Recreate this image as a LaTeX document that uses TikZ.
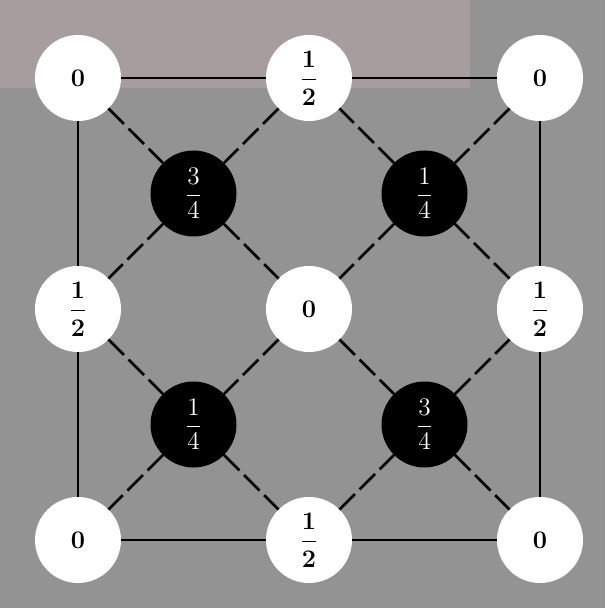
\documentclass[tikz,border=0pt]{standalone}
\usepackage{amsmath}
\usepackage{tikz}
\usetikzlibrary{positioning}
\definecolor{scangray}{HTML}{939393}
\definecolor{scanpink}{HTML}{F8C8D2}
\tikzset{
    every picture/.style={line join=round},
    sitewhite/.style={circle,fill=white,minimum size=17.2mm,inner sep=0pt,
      outer sep=0pt,font=\Large\bfseries\boldmath},
    siteblack/.style={circle,fill=black,text=white,minimum size=17.2mm,
      inner sep=0pt,outer sep=0pt,font=\Large},
    bondline/.style={draw=black,line width=1.6pt},
    bonddash/.style={draw=black,line width=1.6pt,dash pattern=on 4.4mm off 1.3mm}
}

\begin{document}
\begin{tikzpicture}[node distance=4.62cm and 4.62cm,on grid]
  \useasboundingbox[fill=scangray] (-1.56,1.56) rectangle (10.54,-10.6);
  \fill[scanpink,fill opacity=0.2] (-1.56,1.56) rectangle (7.84,-0.2);
  % white sites
  \node[sitewhite] (tl) {0};
  \node[sitewhite,right=of tl] (t) {$\dfrac{1}{2}$};
  \node[sitewhite,right=of t] (tr) {0};
  \node[sitewhite,below=of tl] (l) {$\dfrac{1}{2}$};
  \node[sitewhite,right=of l] (c) {0};
  \node[sitewhite,right=of c] (r) {$\dfrac{1}{2}$};
  \node[sitewhite,below=of l] (bl) {0};
  \node[sitewhite,right=of bl] (b) {$\dfrac{1}{2}$};
  \node[sitewhite,right=of b] (br) {0};
  % black sites
  \node[siteblack,below right=2.31cm and 2.31cm of tl] (nw) {$\dfrac{3}{4}$};
  \node[siteblack,below right=2.31cm and 2.31cm of t] (ne) {$\dfrac{1}{4}$};
  \node[siteblack,below right=2.31cm and 2.31cm of l] (sw) {$\dfrac{1}{4}$};
  \node[siteblack,below right=2.31cm and 2.31cm of c] (se) {$\dfrac{3}{4}$};
  % bonds
  \draw[bondline] (tl) -- (t) -- (tr) -- (r) -- (br) -- (b) -- (bl) -- (l) -- (tl);
  \draw[bonddash] (tl) -- (nw) -- (c) -- (se) -- (br);
  \draw[bonddash] (tr) -- (ne) -- (c) -- (sw) -- (bl);
  \draw[bonddash] (t) -- (nw) -- (l) -- (sw) -- (b) -- (se) -- (r) -- (ne) -- (t);
\end{tikzpicture}
\end{document}
